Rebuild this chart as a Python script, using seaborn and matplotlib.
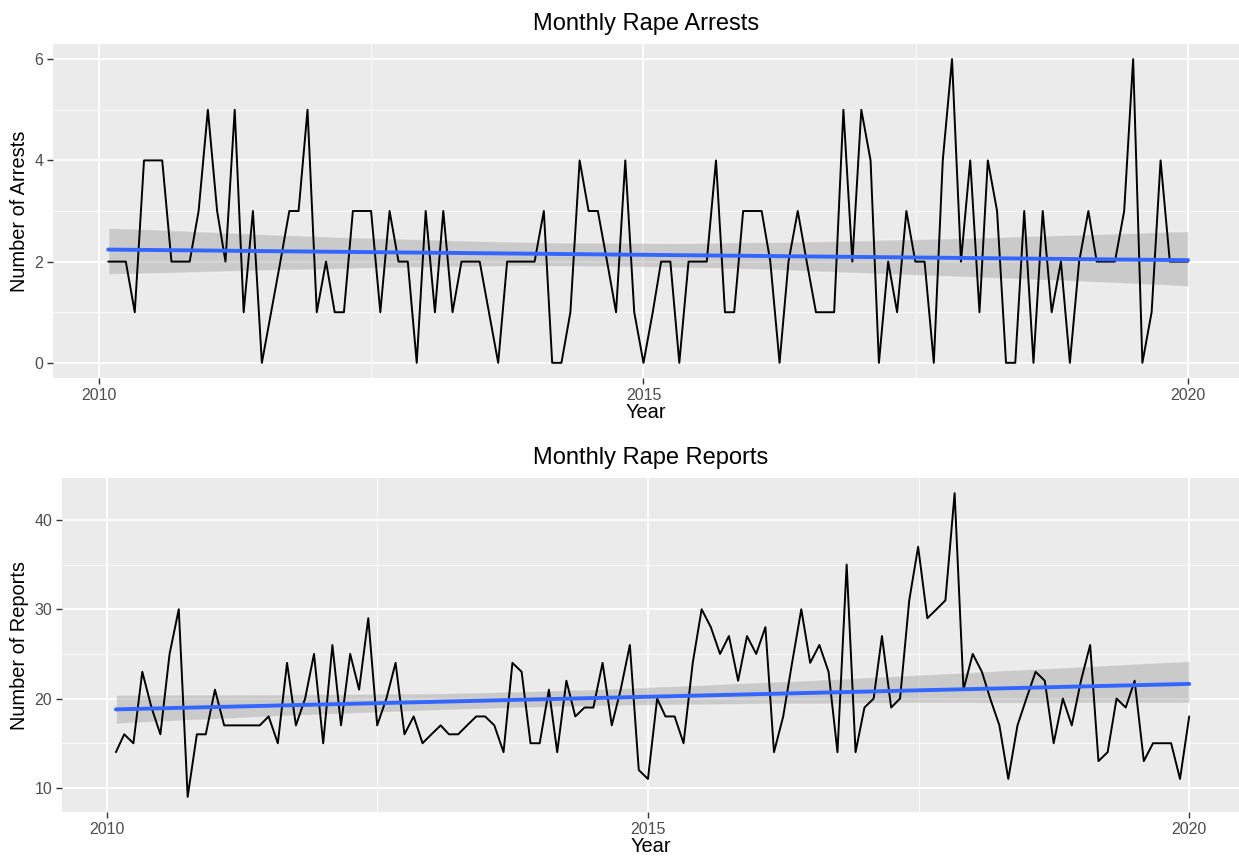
import numpy as np
import pandas as pd
import matplotlib
matplotlib.use('Agg')
import matplotlib.pyplot as plt
import seaborn as sns

# monthly counts, Feb 2010 .. Jan 2020
arrests = [2, 2, 2, 1, 4, 4, 4, 2, 2, 2, 3, 5, 3, 2, 5, 1, 3, 0, 1, 2,
           3, 3, 5, 1, 2, 1, 1, 3, 3, 3, 1, 3, 2, 2, 0, 3, 1, 3, 1, 2,
           2, 2, 1, 0, 2, 2, 2, 2, 3, 0, 0, 1, 4, 3, 3, 2, 1, 4, 1, 0,
           1, 2, 2, 0, 2, 2, 2, 4, 1, 1, 3, 3, 3, 2, 0, 2, 3, 2, 1, 1,
           1, 5, 2, 5, 4, 0, 2, 1, 3, 2, 2, 0, 4, 6, 2, 4, 1, 4, 3, 0,
           0, 3, 0, 3, 1, 2, 0, 2, 3, 2, 2, 2, 3, 6, 0, 1, 4, 2, 2, 2]

reports = [14, 16, 15, 23, 19, 16, 25, 30, 9, 16, 16, 21, 17, 17, 17, 17, 17, 18, 15, 24,
           17, 20, 25, 15, 26, 17, 25, 21, 29, 17, 20, 24, 16, 18, 15, 16, 17, 16, 16, 17,
           18, 18, 17, 14, 24, 23, 15, 15, 21, 14, 22, 18, 19, 19, 24, 17, 21, 26, 12, 11,
           20, 18, 18, 15, 24, 30, 28, 25, 27, 22, 27, 25, 28, 14, 18, 24, 30, 24, 26, 23,
           14, 35, 14, 19, 20, 27, 19, 20, 31, 37, 29, 30, 31, 43, 21, 25, 23, 20, 17, 11,
           17, 20, 23, 22, 15, 20, 17, 22, 26, 13, 14, 20, 19, 22, 13, 15, 15, 15, 11, 18]

months = pd.date_range('2010-02-01', '2020-01-01', freq='MS')
year = months.year + (months.dayofyear - 1) / 365.0

df = pd.DataFrame({'year': year, 'arrests': arrests, 'reports': reports})

sns.set_theme(style='darkgrid', rc={
    'axes.facecolor': '#EBEBEB',
    'grid.color': 'white',
    'axes.edgecolor': '#EBEBEB',
})
plt.rcParams['font.family'] = ['Liberation Sans', 'DejaVu Sans']

fig = plt.figure(figsize=(12.39, 8.61), dpi=100)
ax1 = fig.add_axes([53 / 1239, 1 - 378 / 861, (1239 - 53) / 1239, 334 / 861])
ax2 = fig.add_axes([62 / 1239, 1 - 812 / 861, (1239 - 62) / 1239, 334 / 861])

panels = [
    (ax1, 'arrests', 'Monthly Rape Arrests', 'Number of Arrests',
     (2009.578, 2020.468), (-0.3, 6.3), [0, 2, 4, 6], [1, 3, 5]),
    (ax2, 'reports', 'Monthly Rape Reports', 'Number of Reports',
     (2009.587, 2020.46), (7.3, 44.7), [10, 20, 30, 40], [15, 25, 35]),
]

for ax, col, title, ylab, xlim, ylim, yt, ytm in panels:
    sns.regplot(data=df, x='year', y=col, ax=ax, scatter=False, ci=95, seed=7,
                n_boot=2000,
                line_kws={'color': '#3366FF', 'lw': 2.8, 'zorder': 4},
                color='#999999')
    for c in ax.collections:
        c.set_alpha(0.4)
        c.set_facecolor('#999999')
        c.set_zorder(2)
    sns.lineplot(data=df, x='year', y=col, ax=ax, color='black', lw=1.4, zorder=3)

    ax.set_xlim(*xlim)
    ax.set_ylim(*ylim)
    ax.set_xticks([2010, 2015, 2020])
    ax.set_xticklabels(['2010', '2015', '2020'])
    ax.set_xticks([2012.5, 2017.5], minor=True)
    ax.set_yticks(yt)
    ax.set_yticks(ytm, minor=True)
    ax.grid(which='major', color='white', lw=1.3)
    ax.grid(which='minor', color='white', lw=0.6)
    ax.tick_params(which='major', length=4, width=1, color='#333333',
                   labelsize=11.5, labelcolor='#4D4D4D', pad=3,
                   bottom=True, left=True)
    ax.tick_params(which='minor', length=0)
    for s in ax.spines.values():
        s.set_visible(False)
    ax.set_title(title, fontsize=17, color='black', pad=10)
    ax.set_xlabel('Year', fontsize=14.4, color='black', labelpad=0)
    ax.set_ylabel(ylab, fontsize=14.4, color='black', labelpad=4)

fig.savefig('out.png', dpi=100)
